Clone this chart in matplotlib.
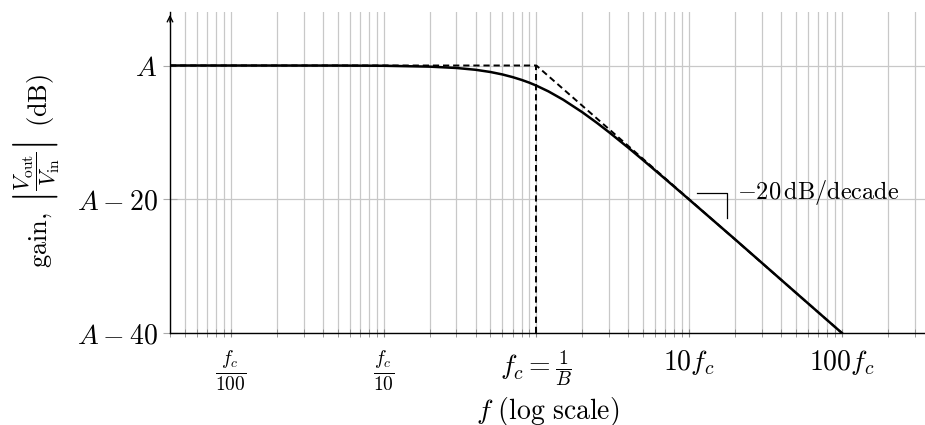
import numpy as np
import matplotlib
matplotlib.use("Agg")
import matplotlib.pyplot as plt

plt.rcParams['mathtext.fontset'] = 'cm'
plt.rcParams['font.family'] = 'serif'
plt.rcParams['font.serif'] = ['cmr10', 'DejaVu Serif']
plt.rcParams['axes.formatter.use_mathtext'] = True

# gain curve (f in units of fc, gain in dB relative to A)
freq = [0.004, 0.05, 0.1, 0.2, 0.3, 0.4, 0.5, 0.6, 0.7, 0.8, 0.9, 1.0, 1.2, 1.5,
        2.0, 2.5, 3.0, 4.0, 5.0, 7.0, 10.0, 20.0, 50.0, 100.0]
gain = [0.0, -0.01, -0.04, -0.17, -0.37, -0.64, -0.97, -1.34, -1.74, -2.15, -2.57,
        -3.01, -3.87, -5.12, -6.99, -8.6, -10.0, -12.3, -14.15, -16.99, -20.04,
        -26.0, -33.98, -40.0]

# straight-line asymptote
asym_f = [0.004, 1.0, 100.0]
asym_g = [0.0, 0.0, -40.0]

xtick_vals = [0.01, 0.1, 1, 10, 100]
xtick_labels = [r'$\frac{f_c}{100}$', r'$\frac{f_c}{10}$', r'$f_c = \frac{1}{B}$',
                r'$10f_c$', r'$100f_c$']
ytick_vals = [-40, -20, 0]
ytick_labels = [r'$A - 40$', r'$A - 20$', r'$A$']

fig = plt.figure(figsize=(9.25, 4.25), dpi=100)
ax = fig.add_axes([170 / 925, 92 / 425, 755 / 925, 321 / 425])

ax.set_xscale('log')
ax.set_xlim(0.004, 350)
ax.set_ylim(-40, 8)

ax.grid(True, which='both', axis='x', color='#c8c8c8', lw=0.9)
ax.grid(True, which='major', axis='y', color='#c8c8c8', lw=0.9)
ax.set_axisbelow(True)

ax.plot(asym_f, asym_g, color='black', lw=1.4, ls=(0, (3.2, 2.0)), zorder=3)
ax.plot([1, 1], [-40, 0], color='black', lw=1.4, ls=(0, (3.2, 2.0)), zorder=3)
ax.plot(freq, gain, color='black', lw=1.8, zorder=4)

# slope marker
ax.plot([11.2, 17.6, 17.6], [-19.0, -19.0, -22.8], color='black', lw=0.9)
ax.text(20.5, -19.0, r'$-20\,\mathrm{dB/decade}$', fontsize=17.5, va='center', ha='left')

ax.set_xticks(xtick_vals)
ax.set_xticklabels(xtick_labels, fontsize=20)
ax.set_yticks(ytick_vals)
ax.set_yticklabels(ytick_labels, fontsize=20)
ax.tick_params(axis='x', which='both', direction='inout', length=6, color='#888888', pad=8)
ax.tick_params(axis='y', which='major', direction='inout', length=10, color='#aaaaaa', pad=4)

for s in ['top', 'right']:
    ax.spines[s].set_visible(False)
ax.spines['left'].set_linewidth(1.0)
ax.spines['bottom'].set_linewidth(1.0)
ax.annotate('', xy=(0, 1.0), xytext=(0, 0.96), xycoords='axes fraction',
            arrowprops=dict(arrowstyle='->', color='black', lw=1.0))

ax.set_xlabel(r'$f\ \mathrm{(log\ scale)}$', fontsize=20, labelpad=2)

# y label in three pieces so the spacing follows the original
ylab = dict(rotation=90, rotation_mode='anchor', ha='center', va='baseline')
fig.text(47 / 925, 1 - 240 / 425, r'$\mathrm{gain,}$', fontsize=19, **ylab)
fig.text(42 / 925, 1 - 172 / 425,
         r'$\left|\dfrac{V_{\mathrm{out}}}{V_{\mathrm{in}}}\right|$', fontsize=16, **ylab)
fig.text(47 / 925, 1 - 100 / 425, r'$\mathrm{(dB)}$', fontsize=19, **ylab)

fig.savefig('out.png', dpi=100)
